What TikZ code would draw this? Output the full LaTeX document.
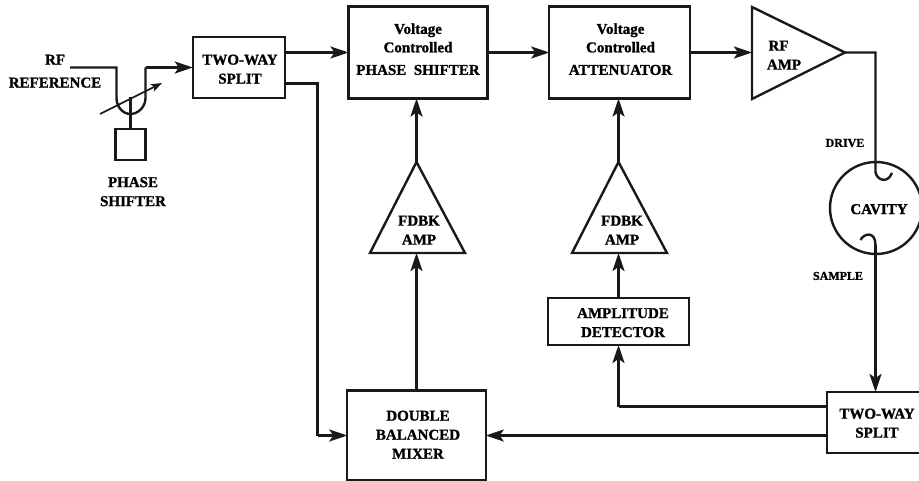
\documentclass[tikz,border=0pt]{standalone}
\usepackage{fontspec}
\setmainfont{Liberation Serif}[BoldFeatures={FakeBold=1.2}]
\usetikzlibrary{arrows.meta}
\tikzset{
  wire/.style={draw=black!90,line width=2.4pt,line join=miter},
  flow/.style={wire,-{Stealth[length=18pt,width=12pt,inset=4pt]}},
  thinflow/.style={draw=black!90,line width=1.7pt,-{Stealth[length=11pt,width=8pt,inset=2.5pt]}},
  blockbox/.style={draw=black!90,rectangle,line width=2.4pt,inner sep=0pt,outer sep=0pt},
  txt/.style={inner sep=0pt,outer sep=0pt,align=center,yshift=0.8pt,font=\bfseries\fontsize{15}{19}\selectfont},
  smalltxt/.style={inner sep=0pt,outer sep=0pt,font=\bfseries\fontsize{12}{14}\selectfont},
}
\begin{document}
\begin{tikzpicture}[x=1pt,y=-1pt]
\useasboundingbox (0,0) rectangle (919,481);
\clip (0,0) rectangle (919,481);
% boxes
\node[blockbox,minimum width=92.5pt,minimum height=61pt] (splita) at (239,67.5) {};
\node[blockbox,minimum width=139pt,minimum height=92pt] (phase) at (418,52.5) {};
\node[blockbox,minimum width=140.5pt,minimum height=92pt] (atten) at (619.5,52.5) {};
\node[blockbox,minimum width=141pt,minimum height=47pt] (det) at (618.5,321.5) {};
\node[blockbox,minimum width=138.5pt,minimum height=90pt] (mixer) at (416.5,435.5) {};
\node[blockbox,minimum width=104pt,minimum height=61pt] (splitb) at (879,422.5) {};
\node[draw=black!90,circle,line width=2.4pt,minimum size=92pt,inner sep=0pt,outer sep=0pt] (cavity) at (876,208) {};
\node[blockbox,minimum width=30pt,minimum height=31pt] (psbox) at (130.5,144.5) {};
% texts
\node[txt] (splitatxt) at (240,70) {TWO-WAY\\SPLIT};
\node[txt] (phasetxt) at (418,50) {Voltage\\[-0.5pt]Controlled\\[3.5pt]PHASE\ \ SHIFTER};
\node[txt] (attentxt) at (620.5,50) {Voltage\\[-0.5pt]Controlled\\[3.5pt]ATTENUATOR};
\node[txt] (dettxt) at (623,323.5) {AMPLITUDE\\DETECTOR};
\node[txt] (mixertxt) at (418,435.5) {DOUBLE\\BALANCED\\MIXER};
\node[txt] (splitbtxt) at (877,424) {TWO-WAY\\SPLIT};
\node[txt] (rfref) at (55,72) {RF\\[4pt]REFERENCE};
\node[txt] (pslabel) at (133,192.5) {PHASE\\SHIFTER};
\node[txt] (rfamp) at (784,56) {RF\hspace*{11pt}\\AMP};
\node[txt] (fdbka) at (419,231) {FDBK\\AMP};
\node[txt] (fdbkb) at (622,231) {FDBK\\AMP};
\node[txt] (cavtxt) at (879,210) {CAVITY};
\node[smalltxt] (drive) at (845,143) {DRIVE};
\node[smalltxt] (sample) at (838,276) {SAMPLE};
% triangles
\coordinate (ampa) at (752,7); \coordinate (ampb) at (752,99); \coordinate (amptip) at (845,52.5);
\draw[wire] (ampa) -- (amptip) -- (ampb) -- cycle;
\coordinate (fa) at (416.5,162); \coordinate (fal) at (370,253); \coordinate (far) at (465,253);
\draw[wire] (fa) -- (far) -- (fal) -- cycle;
\coordinate (fb) at (618.5,162); \coordinate (fbl) at (572,253); \coordinate (fbr) at (667,253);
\draw[wire] (fb) -- (fbr) -- (fbl) -- cycle;
% reference line and phase shifter
\coordinate (rfin) at (70,67.5);
\coordinate (ua) at (116.5,67.5); \coordinate (ub) at (116.5,98);
\coordinate (uc) at (130.5,114); \coordinate (ud) at (145.5,98); \coordinate (ue) at (145.5,67.5);
\coordinate (stem) at (130.5,97);
\draw[wire] (rfin) -- (ua) -- (ub) .. controls (116.5,107) and (123,114) .. (uc)
   .. controls (138,114) and (145.5,107) .. (ud) -- (ue);
\draw[flow] (ue) -- (splita.west |- ue);
\draw[wire] (stem) -- (psbox.north);
\coordinate (slanta) at (100,114); \coordinate (slantb) at (162,83);
\draw[thinflow] (slanta) -- (slantb);
% main chain
\draw[flow] (splita.east |- phase.west) -- (phase.west);
\draw[flow] (phase.east) -- (atten.west);
\draw[flow] (atten.east) -- (ampa |- atten.east);
% feedback
\coordinate (turn) at (317.5,83.5);
\draw[wire] (splita.east |- turn) -- (turn) -- (turn |- mixer.west);
\draw[flow] (turn |- mixer.west) -- (mixer.west);
\draw[flow] (splitb.west |- mixer.east) -- (mixer.east);
\draw[flow] (mixer.north) -- (mixer.north |- fal);
\draw[flow] (fa) -- (fa |- phase.south);
\draw[flow] (fb) -- (fb |- atten.south);
\draw[flow] (det.north) -- (det.north |- fbl);
\coordinate (detturn) at (618.5,406.5);
\draw[wire] (splitb.west |- detturn) -- (detturn);
\draw[flow] (detturn) -- (det.south);
% cavity couplings
\coordinate (dcorner) at (875.5,52.5);
\coordinate (dhook) at (892,173);
\draw[wire] (amptip) -- (dcorner) -- (875.5,172) .. controls (876,179) and (887,185) .. (dhook);
\coordinate (shook) at (860.5,240);
\coordinate (sdown) at (875.5,392);
\draw[wire] (shook) .. controls (864,233) and (875.5,231) .. (875.5,245);
\draw[flow] (875.5,245) -- (sdown);
\end{tikzpicture}
\end{document}
